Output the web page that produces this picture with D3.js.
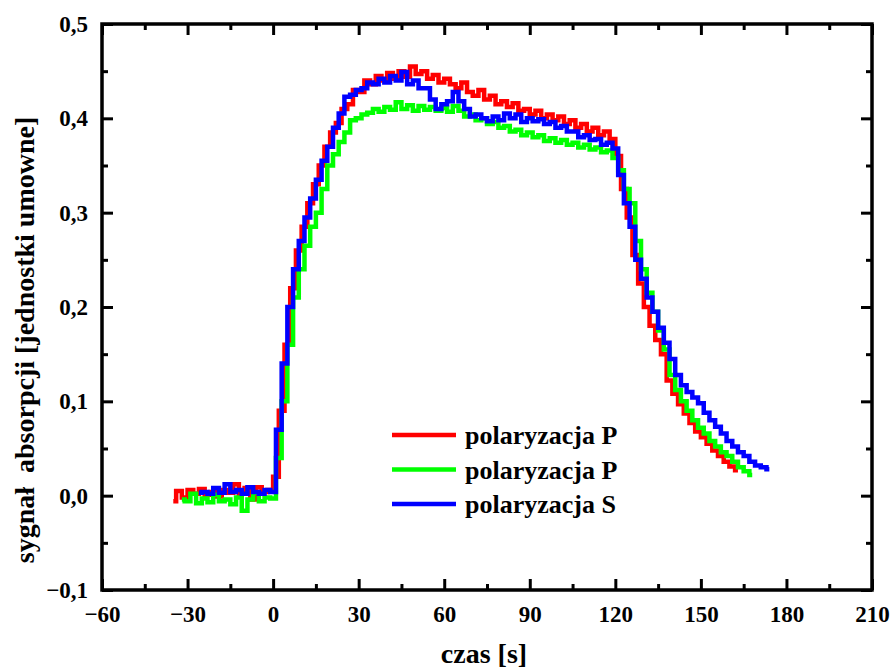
<!DOCTYPE html>
<html>
<head>
<meta charset="utf-8">
<title>sygnal absorpcji</title>
<script src="https://cdn.jsdelivr.net/npm/d3@7/dist/d3.min.js"></script>
<style>
  body { margin: 0; background: #fff; }
  text { font-family: "Liberation Serif", "Times New Roman", serif; font-weight: bold; fill: #000; }
</style>
</head>
<body>
<svg id="chart" width="893" height="670"></svg>
<script>
// time axis: samples every 2 s from the first time of each series
const redStart = -35, greenStart = -32, blueStart = -26, step = 2

const redValues = [
  -0.006, 0.005, -0.002, 0.006, 0.002, 0.007, 0.001, 0.004, -0.001, 0.006, 0.003, 0.012, 0.002, 0.008, -0.004, 0.009, 0.004, 0.006,
  0.02, 0.09, 0.16, 0.22, 0.26, 0.285, 0.31, 0.33, 0.35, 0.37, 0.385, 0.395, 0.41, 0.415, 0.43, 0.428, 0.44, 0.436,
  0.445, 0.44, 0.448, 0.442, 0.45, 0.444, 0.455, 0.447, 0.45, 0.442, 0.446, 0.438, 0.442, 0.436, 0.432, 0.438, 0.428, 0.424,
  0.43, 0.42, 0.424, 0.415, 0.418, 0.412, 0.416, 0.408, 0.41, 0.404, 0.408, 0.4, 0.404, 0.398, 0.402, 0.394, 0.398, 0.39,
  0.394, 0.386, 0.39, 0.382, 0.386, 0.378, 0.36, 0.325, 0.295, 0.255, 0.225, 0.2, 0.18, 0.165, 0.15, 0.122, 0.108, 0.097,
  0.087, 0.077, 0.068, 0.062, 0.055, 0.048, 0.042, 0.036, 0.031, 0.027
]

const greenValues = [
  -0.004, -0.006, 0.002, -0.008, -0.003, -0.007, 0.001, -0.006, -0.004, -0.009, -0.002, -0.016, -0.004, 0.003, -0.006, -0.002, -0.003,
  0.04, 0.1, 0.16, 0.21, 0.24, 0.265, 0.285, 0.3, 0.325, 0.35, 0.362, 0.375, 0.385, 0.398, 0.4, 0.404, 0.406, 0.41,
  0.407, 0.412, 0.409, 0.417, 0.41, 0.414, 0.408, 0.413, 0.409, 0.412, 0.408, 0.411, 0.407, 0.413, 0.408, 0.402, 0.404, 0.398,
  0.4, 0.394, 0.396, 0.39, 0.392, 0.386, 0.388, 0.382, 0.385, 0.38, 0.382, 0.376, 0.379, 0.374, 0.377, 0.372, 0.374, 0.369,
  0.372, 0.367, 0.369, 0.364, 0.366, 0.358, 0.345, 0.325, 0.31, 0.27, 0.24, 0.215, 0.195, 0.175, 0.155, 0.128, 0.112, 0.1,
  0.09, 0.08, 0.072, 0.066, 0.058, 0.052, 0.046, 0.042, 0.036, 0.03, 0.026, 0.022
]

const blueValues = [
  0.003, 0.004, 0.002, 0.008, 0.003, 0.012, 0.004, 0.006, 0.002, 0.009, 0.004, 0.002, 0.006, 0.004,
  0.07, 0.14, 0.2, 0.24, 0.27, 0.295, 0.315, 0.335, 0.355, 0.37, 0.39, 0.405, 0.423, 0.425, 0.43, 0.432, 0.438, 0.436,
  0.442, 0.438, 0.445, 0.44, 0.449, 0.436, 0.44, 0.432, 0.432, 0.42, 0.41, 0.415, 0.418, 0.428, 0.418, 0.41, 0.402, 0.404,
  0.4, 0.397, 0.402, 0.398, 0.405, 0.4, 0.404, 0.396, 0.4, 0.397, 0.399, 0.394, 0.396, 0.39, 0.392, 0.386, 0.386, 0.38,
  0.382, 0.377, 0.378, 0.372, 0.374, 0.368, 0.34, 0.31, 0.285, 0.25, 0.23, 0.21, 0.195, 0.178, 0.162, 0.145, 0.128, 0.117,
  0.11, 0.104, 0.098, 0.088, 0.08, 0.073, 0.066, 0.058, 0.052, 0.046, 0.042, 0.036, 0.032, 0.03, 0.028
]

const seriesNames = ["polaryzacja P", "polaryzacja P", "polaryzacja S"]
const seriesColors = ["#ff0000", "#00ff00", "#0000ff"]

const xTicks = [-60, -30, 0, 30, 60, 90, 120, 150, 180, 210]
const yTicks = [-0.1, 0.0, 0.1, 0.2, 0.3, 0.4, 0.5]
const xMinor = [-45, -15, 15, 45, 75, 105, 135, 165, 195]
const yMinor = [-0.05, 0.05, 0.15, 0.25, 0.35, 0.45]

let svg = d3.select('#chart')
let margin = {left: 102, right: 21, top: 24, bottom: 80}
let width = 893 - margin.left - margin.right
let height = 670 - margin.top - margin.bottom

let body = svg.append('g').attr('transform', `translate(${margin.left},${margin.top})`)

let xScale = d3.scaleLinear().domain([-60, 210]).range([0, width])
let yScale = d3.scaleLinear().domain([-0.1, 0.5]).range([height, 0])

let fmtY = d => d3.format('.1f')(d).replace('.', ',').replace('-0,0', '0,0')

function styleAxis(g) {
  g.select('.domain').remove()
  g.selectAll('line').attr('stroke', '#000').attr('stroke-width', 3)
  g.selectAll('text').style('font-size', '23px')
}

body.append('g').attr('transform', `translate(0,${height})`)
  .call(d3.axisBottom(xScale).tickValues(xTicks).tickSizeInner(-11).tickSizeOuter(0).tickPadding(16).tickFormat(d3.format('d')))
  .call(styleAxis)
body.append('g').attr('transform', `translate(0,${height})`)
  .call(d3.axisBottom(xScale).tickValues(xMinor).tickSize(-6).tickFormat(''))
  .call(styleAxis)
body.append('g')
  .call(d3.axisTop(xScale).tickValues(xTicks).tickSize(-11).tickFormat(''))
  .call(styleAxis)
body.append('g')
  .call(d3.axisTop(xScale).tickValues(xMinor).tickSize(-6).tickFormat(''))
  .call(styleAxis)

body.append('g')
  .call(d3.axisLeft(yScale).tickValues(yTicks).tickSizeInner(-11).tickSizeOuter(0).tickPadding(14).tickFormat(fmtY))
  .call(styleAxis)
body.append('g')
  .call(d3.axisLeft(yScale).tickValues(yMinor).tickSize(-6).tickFormat(''))
  .call(styleAxis)
body.append('g').attr('transform', `translate(${width},0)`)
  .call(d3.axisRight(yScale).tickValues(yTicks).tickSize(-11).tickFormat(''))
  .call(styleAxis)
body.append('g').attr('transform', `translate(${width},0)`)
  .call(d3.axisRight(yScale).tickValues(yMinor).tickSize(-6).tickFormat(''))
  .call(styleAxis)

// frame
body.append('rect')
  .attr('width', width).attr('height', height)
  .attr('fill', 'none').attr('stroke', '#000').attr('stroke-width', 3.5)

// data
let series = [
  {start: redStart, values: redValues},
  {start: greenStart, values: greenValues},
  {start: blueStart, values: blueValues}
].map((s, i) => ({
  name: seriesNames[i],
  color: seriesColors[i],
  points: s.values.map((v, j) => ({t: s.start + j * step, v: v}))
}))

let line = d3.line()
  .x(d => xScale(d.t))
  .y(d => yScale(d.v))
  .curve(d3.curveStep)

body.selectAll('path.series').data(series)
  .enter().append('path')
  .attr('class', 'series')
  .attr('d', d => line(d.points))
  .attr('fill', 'none')
  .attr('stroke', d => d.color)
  .attr('stroke-width', 4.5)

// legend
let legend = body.append('g').attr('transform', 'translate(290,411)')
legend.selectAll('g').data(series)
  .enter().append('g')
  .attr('transform', (d, i) => `translate(0,${i * 34.5})`)
  .each(function(d) {
    let g = d3.select(this)
    g.append('line').attr('x1', 0).attr('x2', 64).attr('y1', 0).attr('y2', 0)
      .attr('stroke', d.color).attr('stroke-width', 4.5)
    g.append('text').attr('x', 73).attr('y', 0).attr('dy', '0.35em')
      .style('font-size', '26px').text(d.name)
  })

// axis titles
svg.append('text')
  .attr('x', 484).attr('y', 663)
  .attr('text-anchor', 'middle').style('font-size', '28px')
  .text('czas [s]')

svg.append('text')
  .attr('transform', 'translate(34,340) rotate(-90)')
  .attr('text-anchor', 'middle').style('font-size', '28px')
  .style('white-space', 'pre')
  .text('sygnał  absorpcji [jednostki umowne]')
</script>
</body>
</html>
